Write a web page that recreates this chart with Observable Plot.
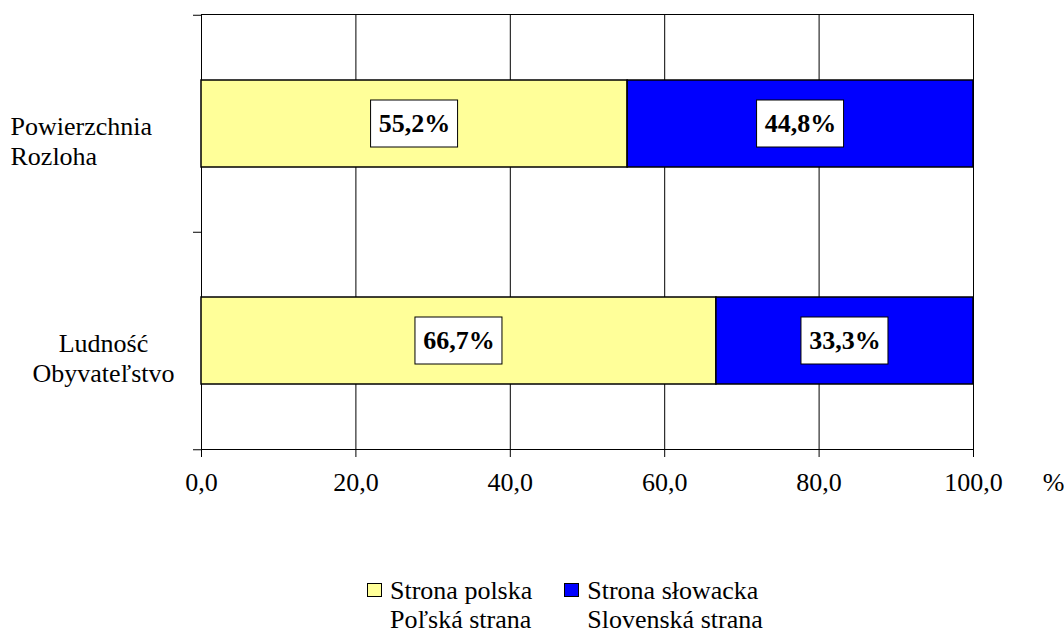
<!DOCTYPE html>
<html>
<head>
<meta charset="utf-8">
<script src="https://cdn.jsdelivr.net/npm/d3@7"></script>
<script src="https://cdn.jsdelivr.net/npm/@observablehq/plot@0.6"></script>
<style>
  html, body { margin: 0; padding: 0; background: #fff; }
  body { width: 1064px; height: 634px; overflow: hidden; }
  svg text { font-family: 'Liberation Serif', serif !important; }
  #legend { display: flex; margin-left: 367px; margin-top: 56px; font-size: 26px; line-height: 29px; color: #000; font-family: 'Liberation Serif', serif !important; }
  .item { display: flex; align-items: flex-start; margin-right: 32px; }
  .sw { width: 13px; height: 12px; border: 1.5px solid #000; margin-top: 7px; margin-right: 8px; }
  .txt { white-space: pre; font-family: 'Liberation Serif', serif; }
</style>
</head>
<body>
<div id="chart"></div>
<div id="legend" style="font-family:'Liberation Serif', serif"></div>
<script>
// ---- data ----
const categories = ["Powierzchnia\nRozloha", "Ludność\nObyvateľstvo"];
const seriesNames = ["Strona polska\nPoľská strana", "Strona słowacka\nSlovenská strana"];
const polska = [55.2, 66.7];
const slowacka = [44.8, 33.3];
const xTicks = [0, 20, 40, 60, 80, 100];
const seriesColors = ["#FFFF99", "#0000FF"];

// ---- build table ----
const rows = [];
categories.forEach((c, i) => {
  let acc = 0;
  [polska[i], slowacka[i]].forEach((v, s) => {
    rows.push({category: c, series: seriesNames[s], value: v, mid: acc + v / 2});
    acc += v;
  });
});

const W = 1064, H = 520, mTop = 14, mBottom = 71, mLeft = 201, mRight = 91;
const halfStep = (H - mTop - mBottom) / categories.length / 2;
const fmt = d => d.toFixed(1).replace(".", ",");
const FF = "'Liberation Serif', serif";

const chart = Plot.plot({
  width: W,
  height: H,
  marginTop: mTop,
  marginBottom: mBottom,
  marginLeft: mLeft,
  marginRight: mRight,
  style: "font-family: 'Liberation Serif', serif; font-size: 26px; color: #000; background: #fff;",
  x: {domain: [0, 100]},
  y: {domain: categories, paddingInner: 0.6, paddingOuter: 0.3, axis: null},
  color: {domain: seriesNames, range: seriesColors},
  marks: [
    Plot.gridX(xTicks, {stroke: "#000", strokeOpacity: 1, strokeWidth: 1}),
    Plot.frame({stroke: "#000", strokeWidth: 1}),
    Plot.axisX({ticks: xTicks, tickFormat: fmt, tickSize: 8, tickPadding: 15, label: null, fontSize: 26, fontFamily: FF}),
    // category boundary ticks on the left axis
    Plot.ruleY(categories, {y: d => d, x1: 0, x2: 0, insetLeft: -8, dy: -halfStep, stroke: "#000"}),
    Plot.ruleY([categories[categories.length - 1]], {y: d => d, x1: 0, x2: 0, insetLeft: -8, dy: halfStep, stroke: "#000"}),
    Plot.barX(rows, Plot.stackX({x: "value", y: "category", fill: "series", stroke: "#000", strokeWidth: 1.5})),
    // label boxes
    Plot.barX(rows, {x1: "mid", x2: "mid", y: "category", insetLeft: -43.5, insetRight: -43.5, insetTop: 20, insetBottom: 20, fill: "#fff", stroke: "#000", strokeWidth: 1}),
    Plot.text(rows, {x: "mid", y: "category", text: d => fmt(d.value) + "%", fontWeight: "bold", fontSize: 26, fontFamily: FF, fill: "#000"}),
    // category labels
    Plot.text([categories[0]], {y: d => d, text: d => d, frameAnchor: "left", textAnchor: "start", dx: -191, dy: 16, lineHeight: 1.15, fontSize: 26, fontFamily: FF, fill: "#000"}),
    Plot.text([categories[1]], {y: d => d, text: d => d, frameAnchor: "left", textAnchor: "middle", dx: -98, dy: 16, lineHeight: 1.15, fontSize: 26, fontFamily: FF, fill: "#000"}),
    // unit label
    Plot.text(["%"], {text: d => d, frameAnchor: "bottom-right", lineAnchor: "top", dx: 82 + 9, dy: 23, fontSize: 26, fontFamily: FF, fill: "#000"})
  ]
});
document.getElementById("chart").appendChild(chart);

// ---- legend ----
const legend = document.getElementById("legend");
seriesNames.forEach((s, i) => {
  const item = document.createElement("div");
  item.className = "item";
  const sw = document.createElement("div");
  sw.className = "sw";
  sw.style.background = seriesColors[i];
  const t = document.createElement("div");
  t.className = "txt";
  t.textContent = s;
  item.appendChild(sw);
  item.appendChild(t);
  legend.appendChild(item);
});
</script>
</body>
</html>
